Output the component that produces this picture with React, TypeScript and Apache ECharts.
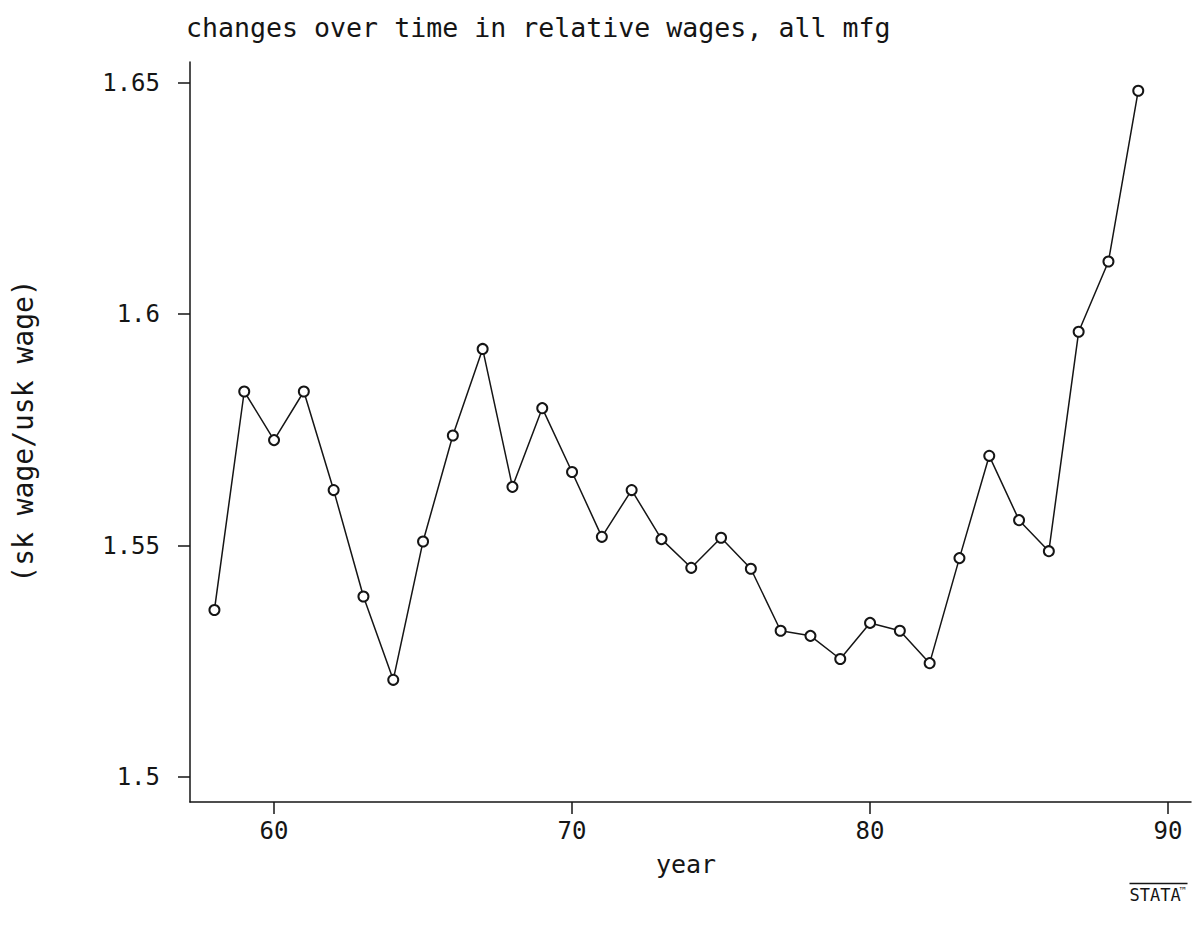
import React, { useEffect, useRef } from "react";
import * as echarts from "echarts";

// Relative wage of skilled vs. unskilled workers, all manufacturing
const years = [58, 59, 60, 61, 62, 63, 64, 65, 66, 67, 68, 69, 70, 71, 72, 73, 74, 75, 76, 77, 78, 79, 80, 81, 82, 83, 84, 85, 86, 87, 88, 89];
const relWage = [
  1.5361, 1.5833, 1.5728, 1.5833, 1.562, 1.539, 1.521, 1.5509, 1.5738, 1.5925,
  1.5627, 1.5797, 1.5659, 1.5519, 1.562, 1.5514, 1.5452, 1.5517, 1.545, 1.5316,
  1.5305, 1.5255, 1.5333, 1.5316, 1.5246, 1.5473, 1.5694, 1.5555, 1.5488, 1.5962,
  1.6114, 1.6483,
];
const xTicks = [60, 70, 80, 90];
const yTicks = [1.5, 1.55, 1.6, 1.65];

const titleText = "changes over time in relative wages, all mfg";
const xName = "year";
const yName = "(sk wage/usk wage)";

const FONT = "'DejaVu Sans Mono', monospace";
const INK = "#151515";

export default function App() {
  const ref = useRef<HTMLDivElement>(null);

  useEffect(() => {
    if (!ref.current) return;
    const chart = echarts.init(ref.current, undefined, { renderer: "svg" });
    const points = years.map((y, i) => [y, relWage[i]]);

    chart.setOption({
      animation: false,
      backgroundColor: "#ffffff",
      grid: { left: 190, top: 62, width: 1001, height: 740 },
      xAxis: {
        type: "value",
        min: 57.18,
        max: 90.77,
        splitLine: { show: false },
        axisLine: { show: true, lineStyle: { color: INK, width: 1.5 } },
        axisTick: { show: true, customValues: xTicks, length: 12, lineStyle: { color: INK, width: 1.5 } },
        axisLabel: {
          customValues: xTicks,
          margin: 17,
          color: INK,
          fontFamily: FONT,
          fontSize: 24,
        },
      },
      yAxis: {
        type: "value",
        min: 1.4946,
        max: 1.6545,
        splitLine: { show: false },
        axisLine: { show: true, lineStyle: { color: INK, width: 1.5 } },
        axisTick: { show: true, customValues: yTicks, length: 12, lineStyle: { color: INK, width: 1.5 } },
        axisLabel: {
          customValues: yTicks,
          margin: 30,
          color: INK,
          fontFamily: FONT,
          fontSize: 24,
          formatter: (v: number) => String(Number(v.toFixed(2))),
        },
      },
      graphic: [
        {
          type: "text",
          left: 186,
          top: 14,
          style: { text: titleText, fill: INK, font: `26.6px ${FONT}` },
        },
        {
          type: "text",
          x: 686,
          y: 864,
          style: { text: xName, fill: INK, font: `25px ${FONT}`, align: "center", verticalAlign: "middle" },
        },
        {
          type: "text",
          x: 23,
          y: 431,
          rotation: Math.PI / 2,
          style: { text: yName, fill: INK, font: `28px ${FONT}`, align: "center", verticalAlign: "middle" },
        },
        {
          type: "group",
          left: 1127,
          top: 881,
          children: [
            { type: "line", shape: { x1: 0, y1: 0, x2: 58, y2: 0 }, style: { stroke: INK, lineWidth: 1.5 } },
            { type: "text", x: 0, y: 3, style: { text: "STATA", fill: INK, font: `17px ${FONT}` } },
            { type: "text", x: 50, y: 2, style: { text: "™", fill: INK, font: `10px ${FONT}` } },
          ],
        },
      ],
      series: [
        {
          type: "line",
          data: points,
          symbol: "emptyCircle",
          symbolSize: 10,
          itemStyle: { color: INK, borderColor: INK, borderWidth: 1.5 },
          lineStyle: { color: INK, width: 1.5 },
        },
      ],
    });

    return () => chart.dispose();
  }, []);

  return (
    <div
      ref={ref}
      style={{ position: "fixed", left: 0, top: 0, width: 1201, height: 951, background: "#fff" }}
    />
  );
}
